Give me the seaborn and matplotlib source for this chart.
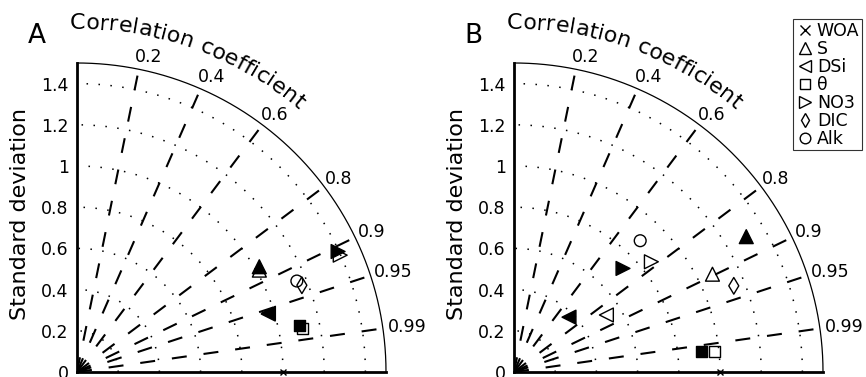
import numpy as np
import pandas as pd
import matplotlib
matplotlib.use("Agg")
import matplotlib.pyplot as plt
from matplotlib.lines import Line2D
from matplotlib.font_manager import FontProperties
import seaborn as sns

# tracers and their marker shapes
variables = ["S", "DSi", "θ", "NO3", "DIC", "Alk"]
marker_of = {"S": "^", "DSi": "<", "θ": "s", "NO3": ">", "DIC": "d", "Alk": "o"}
size_of = {"S": 100, "DSi": 100, "θ": 62, "NO3": 100, "DIC": 72, "Alk": 72}

# panel A : normalised std and correlation against WOA
a_filled_vars = ["S", "DSi", "θ", "NO3"]
a_filled_std = [1.022, 0.972, 1.102, 1.396]
a_filled_cor = [0.866, 0.956, 0.979, 0.908]
a_open_vars = ["S", "DSi", "θ", "NO3", "DIC", "Alk"]
a_open_std = [1.014, 0.970, 1.114, 1.398, 1.170, 1.155]
a_open_cor = [0.873, 0.957, 0.982, 0.914, 0.933, 0.924]

# panel B
b_filled_vars = ["S", "DSi", "θ", "NO3"]
b_filled_std = [1.305, 0.377, 0.915, 0.730]
b_filled_cor = [0.864, 0.708, 0.994, 0.725]
b_open_vars = ["S", "DSi", "θ", "NO3", "DIC", "Alk"]
b_open_std = [1.074, 0.527, 0.979, 0.855, 1.146, 0.884]
b_open_cor = [0.897, 0.851, 0.995, 0.780, 0.931, 0.693]

ref_std = 1.0
std_grid = [0.2, 0.4, 0.6, 0.8, 1.0, 1.2, 1.4]
std_ticks = [0, 0.2, 0.4, 0.6, 0.8, 1.0, 1.2, 1.4]
cor_ticks = [0.2, 0.4, 0.6, 0.8, 0.9, 0.95, 0.99]
std_max = 1.5

sns.set_style("white")
plt.rcParams["font.family"] = ["DejaVu Sans"]
plt.rcParams["lines.scale_dashes"] = False
plt.rcParams["text.color"] = "k"
plt.rcParams["ytick.color"] = "k"
plt.rcParams["axes.labelcolor"] = "k"

W, H = 866, 377
fig = plt.figure(figsize=(W / 100, H / 100), dpi=100)
side = 309
ppu = side / std_max  # pixels per std unit


def to_frame(vs, std, cor):
    std = np.asarray(std)
    th = np.arccos(np.asarray(cor))
    return pd.DataFrame({"var": vs, "x": std * np.cos(th), "y": std * np.sin(th)})


def arc_text(ax, text, r, theta_mid, size):
    renderer = fig.canvas.get_renderer()
    prop = FontProperties(family="DejaVu Sans", size=size)

    def w(s):
        return renderer.get_text_width_height_descent(s, prop, ismath=False)[0]

    space_w = w("a a") - w("aa")
    widths = [space_w if ch == " " else w(ch) for ch in text]
    r_px = r * ppu
    th0 = np.deg2rad(theta_mid) + sum(widths) / (2 * r_px)
    s = 0
    for ch, cw in zip(text, widths):
        th = th0 - (s + cw / 2) / r_px
        s += cw
        if ch == " ":
            continue
        ax.text(r * np.cos(th), r * np.sin(th), ch, rotation=np.rad2deg(th) - 90,
                rotation_mode="anchor", ha="center", va="baseline",
                fontsize=size, clip_on=False)


def taylor_panel(left_px, letter, filled, opened):
    ax = fig.add_axes([left_px / W, (H - 372) / H, side / W, side / H])
    ax.set_xlim(0, std_max)
    ax.set_ylim(0, std_max)

    th = np.linspace(0, np.pi / 2, 300)
    # std contours
    for r in std_grid:
        ax.plot(r * np.cos(th), r * np.sin(th), color="k", lw=1.1,
                dashes=(1.1, 7.5), dash_capstyle="butt", zorder=1)
    # correlation rays + labels
    for c in cor_ticks:
        t = np.arccos(c)
        ax.plot([0, std_max * np.cos(t)], [0, std_max * np.sin(t)], color="k",
                lw=1.5, dashes=(10.8, 12.2), dash_capstyle="butt", zorder=1)
        rr = std_max + 0.02
        ax.text(rr * np.cos(t) + 0.01 - 0.035 * np.sin(t), rr * np.sin(t) + 0.04 * np.sin(t),
                f"{c:g}", ha="left", va="center", fontsize=12.5, clip_on=False)
    ax.plot(std_max * np.cos(th), std_max * np.sin(th), color="k", lw=0.9,
            clip_on=False, zorder=2)

    # model points
    sns.scatterplot(data=opened, x="x", y="y", style="var", markers=marker_of,
                    size="var", sizes=size_of, color="k", edgecolor="k",
                    linewidth=1, legend=False, ax=ax, zorder=4, clip_on=False)
    ax.collections[-1].set_facecolor("none")
    sns.scatterplot(data=filled, x="x", y="y", style="var", markers=marker_of,
                    size="var", sizes=size_of, color="k", edgecolor="k",
                    linewidth=1, legend=False, ax=ax, zorder=5, clip_on=False)
    # reference (WOA)
    ax.plot([ref_std], [0], "x", color="k", ms=5, mew=1, clip_on=False, zorder=6)

    for sp in ["top", "right"]:
        ax.spines[sp].set_visible(False)
    for sp in ["left", "bottom"]:
        ax.spines[sp].set_linewidth(2)
        ax.spines[sp].set_color("k")
    ax.set_xticks([])
    ax.set_yticks(std_ticks)
    ax.set_yticklabels([f"{v:g}" for v in std_ticks])
    ax.tick_params(axis="y", length=0, pad=6, labelsize=12.5, labelcolor="k")
    ax.set_xlabel("")
    ax.set_ylabel("")
    ax.text(-0.185, 0.51, "Standard deviation", rotation=90, ha="center",
            va="center", fontsize=16, transform=ax.transAxes)
    ax.text(-0.24, 1.597, letter, fontsize=19, ha="left", va="baseline", clip_on=False)
    arc_text(ax, "Correlation coefficient", 1.665, 70.5, 16)
    return ax


ax_a = taylor_panel(77, "A", to_frame(a_filled_vars, a_filled_std, a_filled_cor),
                    to_frame(a_open_vars, a_open_std, a_open_cor))
ax_b = taylor_panel(514, "B", to_frame(b_filled_vars, b_filled_std, b_filled_cor),
                    to_frame(b_open_vars, b_open_std, b_open_cor))

handles = [Line2D([], [], ls="none", marker="x", color="k", ms=6.5, mew=1, label="WOA")]
for v in variables:
    handles.append(Line2D([], [], ls="none", marker=marker_of[v], ms=np.sqrt(size_of[v]) * 0.9,
                          mfc="none", mec="k", mew=1, label=v))
leg = fig.legend(handles=handles, loc="upper right", bbox_to_anchor=(862 / W, 1 - 19 / H),
                 bbox_transform=fig.transFigure, fontsize=12.5, frameon=True, fancybox=False,
                 borderpad=0.15, labelspacing=0, handlelength=1.1, handletextpad=0.15,
                 borderaxespad=0)
leg.get_frame().set_edgecolor("k")
leg.get_frame().set_linewidth(0.8)

fig.savefig("out.png", dpi=100)
